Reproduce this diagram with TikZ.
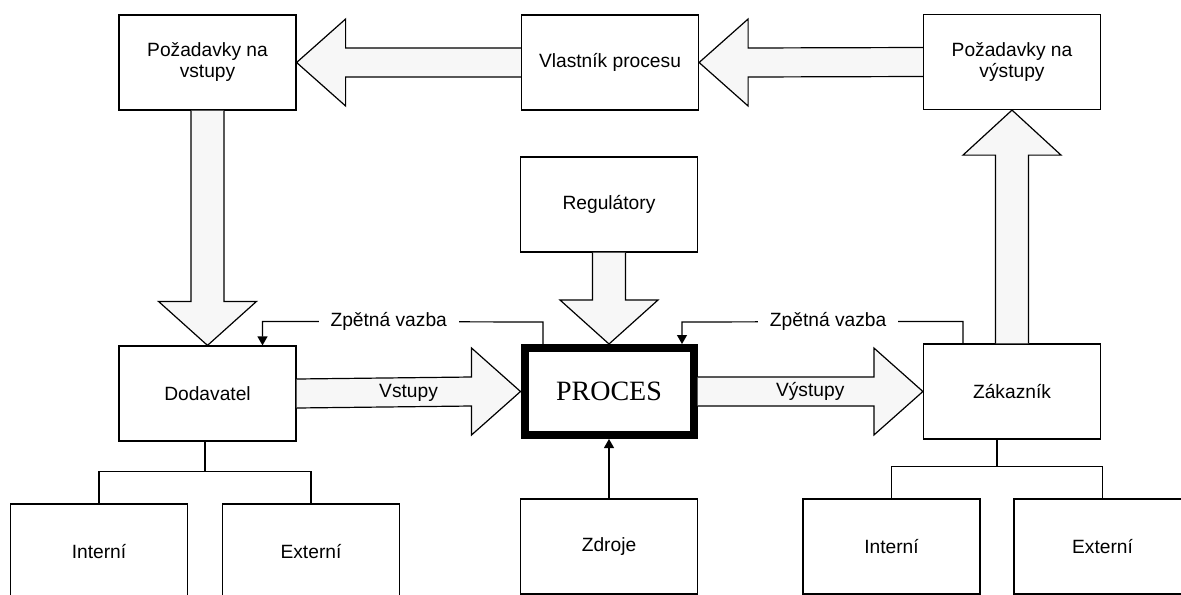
\documentclass[tikz,border=0pt]{standalone}
\usepackage{fontspec}
\setmainfont{Liberation Sans}
\newfontfamily\procfont{Liberation Serif}
\usetikzlibrary{calc,arrows.meta}

\begin{document}
\begin{tikzpicture}[
			x=0.5pt, y=-0.5pt,
			every node/.style={font=\fontsize{9.6}{10.5}\selectfont},
			box/.style={draw, line width=0.6pt, minimum width=88.5pt, minimum height=47.5pt, align=center, inner sep=0pt},
			barrow/.style={draw, fill=gray!6, line width=0.6pt, line join=miter},
			fback/.style={line width=0.6pt, -{Triangle[length=4.5pt,width=5pt]}},
			fblabel/.style={fill=white, inner xsep=6pt, inner ysep=1pt}
			]

				\useasboundingbox (0,0) rectangle (1181,594);
				\clip (0,0) rectangle (1181,594);

				\node[box] (reqin) at (207.5,62.5) {Požadavky na\\vstupy};
				\node[box] (owner) at (610,62.5) {Vlastník procesu};
				\node[box] (reqout) at (1012,62) {Požadavky na\\výstupy};
				\node[box] (reg) at (609,204.5) {Regulátory};

				\node[box] (dodavatel) at (207.5,393.5) {Dodavatel};
				\node[box, line width=4pt, minimum width=84.5pt, minimum height=43.5pt, font=\procfont\fontsize{14}{16}\selectfont] (proces) at (609,391.5) {PROCES};
				\node[box] (zakaznik) at (1012,391.5) {Zákazník};

				\node[box] (intL) at (99,551.5) {Interní};
				\node[box] (extL) at (311,551.5) {Externí};
				\node[box] (zdroje) at (609,546.5) {Zdroje};
				\node[box] (intR) at (891.5,546.5) {Interní};
				\node[box] (extR) at (1102.5,546.5) {Externí};

				\filldraw[barrow] ($(owner.west)+(0,-14.5)$) -- ($(reqin.east)+(49,-14.5)$) -- ($(reqin.east)+(49,-43.5)$) -- (reqin.east)
					-- ($(reqin.east)+(49,43.5)$) -- ($(reqin.east)+(49,14.5)$) -- ($(owner.west)+(0,14.5)$);
				\filldraw[barrow] ($(reqout.west)+(0,-14.5)$) -- ($(owner.east)+(49,-14.5)$) -- ($(owner.east)+(49,-43.5)$) -- (owner.east)
					-- ($(owner.east)+(49,43.5)$) -- ($(owner.east)+(49,14.5)$) -- ($(reqout.west)+(0,14.5)$);

				\filldraw[barrow] ($(reqin.south)+(-16.5,0)$) -- ($(dodavatel.north)+(-16.5,-44)$) -- ($(dodavatel.north)+(-49,-44)$) -- (dodavatel.north)
					-- ($(dodavatel.north)+(49,-44)$) -- ($(dodavatel.north)+(16.5,-44)$) -- ($(reqin.south)+(16.5,0)$);
				\filldraw[barrow] ($(reg.south)+(-16.5,0)$) -- ($(proces.north)+(-16.5,-44)$) -- ($(proces.north)+(-49,-44)$) -- (proces.north)
					-- ($(proces.north)+(49,-44)$) -- ($(proces.north)+(16.5,-44)$) -- ($(reg.south)+(16.5,0)$);
				\filldraw[barrow] ($(zakaznik.north)+(-16.5,0)$) -- ($(reqout.south)+(-16.5,45)$) -- ($(reqout.south)+(-49,45)$) -- (reqout.south)
					-- ($(reqout.south)+(49,45)$) -- ($(reqout.south)+(16.5,45)$) -- ($(zakaznik.north)+(16.5,0)$);

				\filldraw[barrow] ($(dodavatel.east)+(0,-14.5)$) -- ($(proces.west)+(-49,-14.5)$) -- ($(proces.west)+(-49,-43.5)$) -- (proces.west)
					-- ($(proces.west)+(-49,43.5)$) -- ($(proces.west)+(-49,14.5)$) -- ($(dodavatel.east)+(0,14.5)$);
				\filldraw[barrow] ($(proces.east)+(0,-14.5)$) -- ($(zakaznik.west)+(-49,-14.5)$) -- ($(zakaznik.west)+(-49,-43.5)$) -- (zakaznik.west)
					-- ($(zakaznik.west)+(-49,43.5)$) -- ($(zakaznik.west)+(-49,14.5)$) -- ($(proces.east)+(0,14.5)$);

				\node (vstupy) at ($(dodavatel.east)!0.5!(proces.west)$) {Vstupy};
				\node (vystupy) at ($(proces.east)!0.5!(zakaznik.west)$) {Výstupy};

				\draw[fback] ($(proces.north)+(-66,0)$) -- ++(0,-22)
					-- node[fblabel, pos=0.55] (zvL) {Zpětná vazba} ($(dodavatel.north)+(55,-24)$) -- ($(dodavatel.north)+(55,0)$);
				\draw[fback] ($(zakaznik.north)+(-49,0)$) -- ++(0,-22)
					-- node[fblabel, pos=0.48] (zvR) {Zpětná vazba} ($(proces.north)+(73,-22)$) -- ($(proces.north)+(73,0)$);

				\draw[fback] (zdroje.north) -- (proces.south);

				\coordinate (jL) at ($(intL.north)!0.5!(extL.north)+(0,-32)$);
				\coordinate (jR) at ($(intR.north)!0.5!(extR.north)+(0,-32)$);
				\draw[line width=0.6pt] (jL) -- (jL |- dodavatel.south);
				\draw[line width=0.6pt] (intL.north) |- (jL) -| (extL.north);
				\draw[line width=0.6pt] (jR) -- (jR |- zakaznik.south);
				\draw[line width=0.6pt] (intR.north) |- (jR) -| (extR.north);

			\end{tikzpicture}
\end{document}
